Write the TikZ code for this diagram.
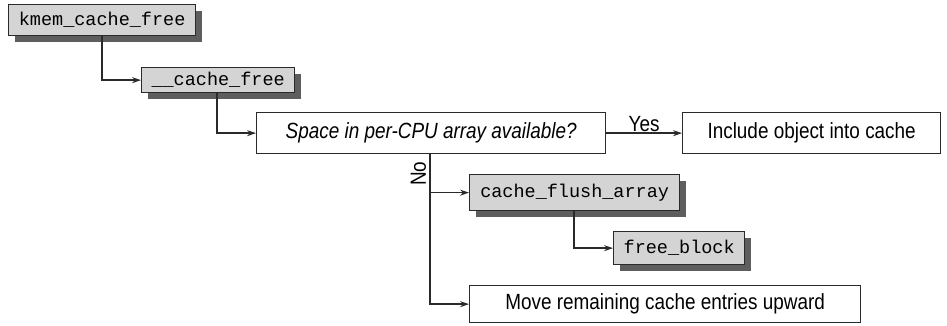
\documentclass[tikz,border=0pt]{standalone}
\usepackage{fontspec}
\setmainfont{Liberation Sans}[FakeStretch=0.86]
\setmonofont{Liberation Mono}
\usetikzlibrary{arrows.meta,shadows}
\definecolor{boxgray}{HTML}{D4D4D4}
\definecolor{lineclr}{HTML}{2A2A2A}
\definecolor{shadowclr}{HTML}{5E5E5E}
\tikzset{
  base/.style={draw=lineclr, line width=1.3pt, rectangle, inner sep=0pt, anchor=north west, align=center},
  code/.style={base, fill=boxgray, font=\fontsize{18.5}{20}\ttfamily,
    drop shadow={shadow xshift=6pt, shadow yshift=-6pt, fill=shadowclr, opacity=1}},
  plain/.style={base, fill=white, font=\fontsize{22}{24}\selectfont},
  conn/.style={draw=lineclr, line width=1.6pt, -{Stealth[length=9pt,width=6pt]}},
  lbl/.style={font=\fontsize{22}{24}\selectfont, inner sep=1pt}
}
\begin{document}
\begin{tikzpicture}[x=1pt,y=-1pt]
\useasboundingbox (0,0) rectangle (947,326);
\node[code, minimum width=187pt, minimum height=31pt] (kmem) at (8,4) {kmem\_cache\_free};
\node[code, minimum width=153pt, minimum height=25pt] (cf) at (141,67) {\_\_cache\_free};
\node[plain, minimum width=349pt, minimum height=41pt] (space) at (256,112) {\itshape Space in per-CPU array available?};
\node[plain, minimum width=258pt, minimum height=41pt] (incl) at (682,112) {Include object into cache};
\node[code, minimum width=210pt, minimum height=36pt] (cfa) at (469,174) {cache\_flush\_array};
\node[code, minimum width=131pt, minimum height=33pt] (fb) at (613,231) {free\_block};
\node[plain, minimum width=391pt, minimum height=37pt] (move) at (469,285) {Move remaining cache entries upward};

\draw[conn] ([xshift=94pt]kmem.south west) |- (cf.west);
\draw[conn] ([xshift=76pt]cf.south west) |- (space.west);
\draw[conn] (space.east) -- node[lbl, above] {Yes} (incl.west);
\draw[conn] ([xshift=174pt]space.south west) |- node[lbl, pos=0.065, rotate=90, anchor=south, yshift=2pt] {No} (move.west);
\draw[conn] ([xshift=174pt]space.south west |- cfa.west) -- (cfa.west);
\draw[conn] ([xshift=105pt]cfa.south west) |- (fb.west);
\end{tikzpicture}
\end{document}
